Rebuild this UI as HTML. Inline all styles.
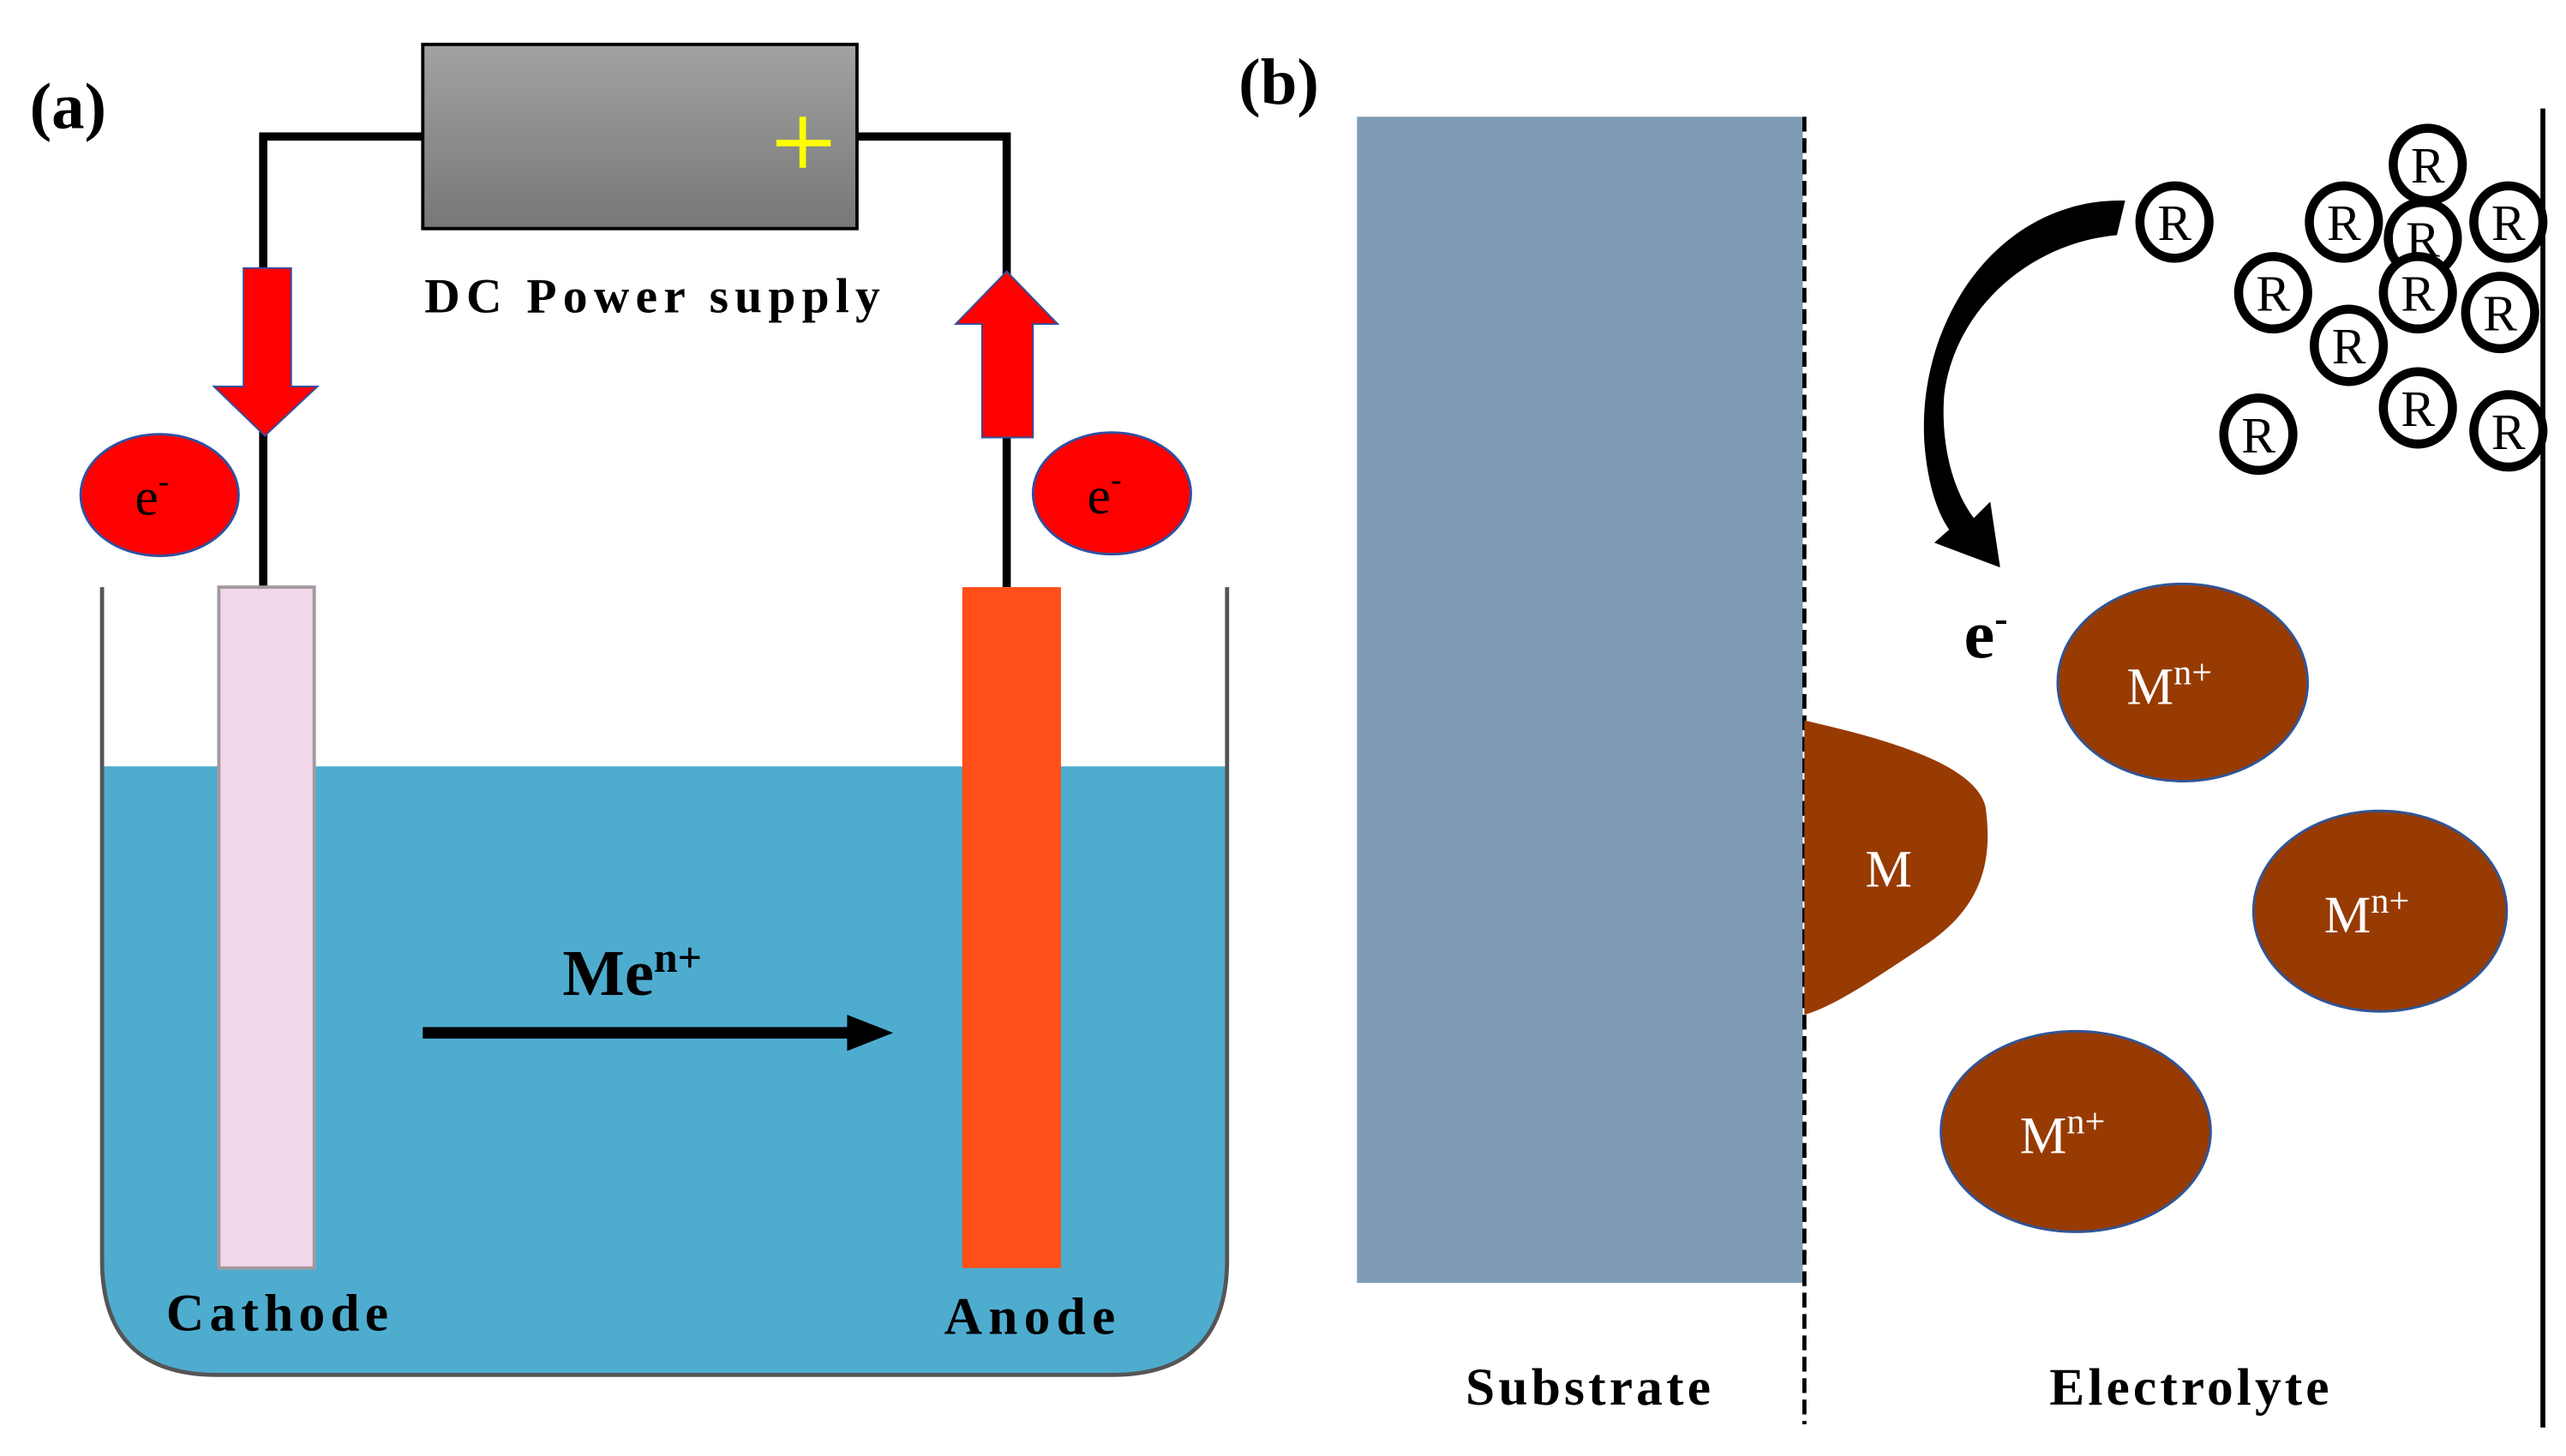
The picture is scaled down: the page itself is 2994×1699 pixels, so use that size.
<!DOCTYPE html>
<html><head><meta charset="utf-8"><style>
html,body{margin:0;padding:0;background:#fff;}
svg{display:block;}
text{font-family:"Liberation Serif",serif;}
</style></head><body>
<svg width="2994" height="1699" viewBox="0 0 1560 885.3" xmlns="http://www.w3.org/2000/svg">
<defs>
<linearGradient id="g" x1="0" y1="0" x2="0" y2="1"><stop offset="0" stop-color="#a2a2a2"/><stop offset="1" stop-color="#777"/></linearGradient>
</defs>
<rect width="1560" height="885.3" fill="#fff"/>
<!-- Panel a -->
<text x="18" y="78" font-size="40" font-weight="bold">(a)</text>
<path d="M257,83 H160 V357 M521,83 H612 V357" fill="none" stroke="#000" stroke-width="5"/>
<rect x="257" y="27" width="264" height="112" fill="url(#g)" stroke="#000" stroke-width="2"/>
<path d="M488,71 V102 M472,87 H505" stroke="#ffff00" stroke-width="4"/>
<text x="258" y="190" font-size="30" font-weight="bold" textLength="277" lengthAdjust="spacing">DC Power supply</text>
<!-- beaker -->
<path d="M62,466 H746 V766 Q746,836 676,836 H132 Q62,836 62,766 Z" fill="#4eaccf"/>
<path d="M62,357 V766 Q62,836 132,836 H676 Q746,836 746,766 V357" fill="none" stroke="#555" stroke-width="2.5"/>
<rect x="133" y="357" width="58" height="414" fill="#f1d7e8" stroke="#a09aa0" stroke-width="2"/>
<rect x="585" y="357" width="60" height="414" fill="#ff4e17"/>
<!-- arrows -->
<path d="M148,163 H177 V235 H193 L161,265 L130,235 H148 Z" fill="#f00" stroke="#3050a0" stroke-width="1"/>
<path d="M597,266 H628 V197 H643 L612,165 L581,197 H597 Z" fill="#f00" stroke="#3050a0" stroke-width="1"/>
<ellipse cx="97" cy="301" rx="48" ry="37" fill="#f00" stroke="#3050a0" stroke-width="1.5"/>
<ellipse cx="676" cy="300" rx="48" ry="37" fill="#f00" stroke="#3050a0" stroke-width="1.5"/>
<text x="82" y="313" font-size="32">e<tspan dy="-14" font-size="20">-</tspan></text>
<text x="661" y="312" font-size="32">e<tspan dy="-14" font-size="20">-</tspan></text>
<text x="342" y="605" font-size="40" font-weight="bold">Me<tspan dy="-14" font-size="26">n+</tspan></text>
<path d="M257,628 H520" stroke="#000" stroke-width="7"/>
<path d="M515,617 L543,628 L515,639 Z" fill="#000"/>
<text x="101" y="809" font-size="32" font-weight="bold" textLength="135" lengthAdjust="spacing">Cathode</text>
<text x="574" y="811" font-size="32" font-weight="bold" textLength="104" lengthAdjust="spacing">Anode</text>
<!-- Panel b -->
<text x="753" y="63" font-size="40" font-weight="bold">(b)</text>
<rect x="825" y="71" width="271" height="709" fill="#7f9ab5"/>
<path d="M1097,71 V866" stroke="#000" stroke-width="2.5" stroke-dasharray="9,4"/>
<path d="M1546,66 V868" stroke="#000" stroke-width="3"/>
<path d="M1097,438 C1150,450 1200,465 1207,490 C1213,530 1200,555 1170,575 C1140,595 1115,612 1097,617 Z" fill="#973b03"/>
<text x="1134" y="539" font-size="32" fill="#fff">M</text>
<ellipse cx="1327" cy="415" rx="76" ry="60" fill="#973b03" stroke="#2f5597" stroke-width="1.5"/>
<ellipse cx="1447" cy="554" rx="77" ry="61" fill="#973b03" stroke="#2f5597" stroke-width="1.5"/>
<ellipse cx="1262" cy="688" rx="82" ry="61" fill="#973b03" stroke="#2f5597" stroke-width="1.5"/>
<text x="1293" y="428" font-size="32" fill="#fff">M<tspan dy="-12" font-size="22">n+</tspan></text>
<text x="1413" y="567" font-size="32" fill="#fff">M<tspan dy="-12" font-size="22">n+</tspan></text>
<text x="1228" y="701" font-size="32" fill="#fff">M<tspan dy="-12" font-size="22">n+</tspan></text>
<text x="1194" y="400" font-size="42" font-weight="bold">e<tspan dy="-16" font-size="24">-</tspan></text>
<path d="M1292,122 C1215,120 1165,195 1170,270 C1172,295 1178,312 1185,322 L1176,330 L1216,345 L1210,305 L1200,315 C1185,295 1180,265 1182,240 C1188,190 1232,148 1287,143 Z" fill="#000"/>
<g fill="#fff" stroke="#000" stroke-width="5.5">
<ellipse cx="1322" cy="135" rx="21" ry="22"/>
<ellipse cx="1476" cy="100" rx="21" ry="22"/>
<ellipse cx="1425" cy="135" rx="21" ry="22"/>
<ellipse cx="1473" cy="145" rx="21" ry="22"/>
<ellipse cx="1525" cy="135" rx="21" ry="22"/>
<ellipse cx="1382" cy="178" rx="21" ry="22"/>
<ellipse cx="1470" cy="178" rx="21" ry="22"/>
<ellipse cx="1520" cy="190" rx="21" ry="22"/>
<ellipse cx="1428" cy="210" rx="21" ry="22"/>
<ellipse cx="1373" cy="264" rx="21" ry="22"/>
<ellipse cx="1470" cy="248" rx="21" ry="22"/>
<ellipse cx="1525" cy="262" rx="21" ry="22"/>
</g>
<g font-size="31" text-anchor="middle">
<text x="1322" y="146">R</text><text x="1476" y="111">R</text><text x="1425" y="146">R</text>
<text x="1473" y="156">R</text><text x="1525" y="146">R</text><text x="1382" y="189">R</text>
<text x="1470" y="189">R</text><text x="1520" y="201">R</text><text x="1428" y="221">R</text>
<text x="1373" y="275">R</text><text x="1470" y="259">R</text><text x="1525" y="273">R</text>
</g>
<text x="891" y="854" font-size="32" font-weight="bold" textLength="149" lengthAdjust="spacing">Substrate</text>
<text x="1246" y="854" font-size="32" font-weight="bold" textLength="170" lengthAdjust="spacing">Electrolyte</text>
</svg>
</body></html>
